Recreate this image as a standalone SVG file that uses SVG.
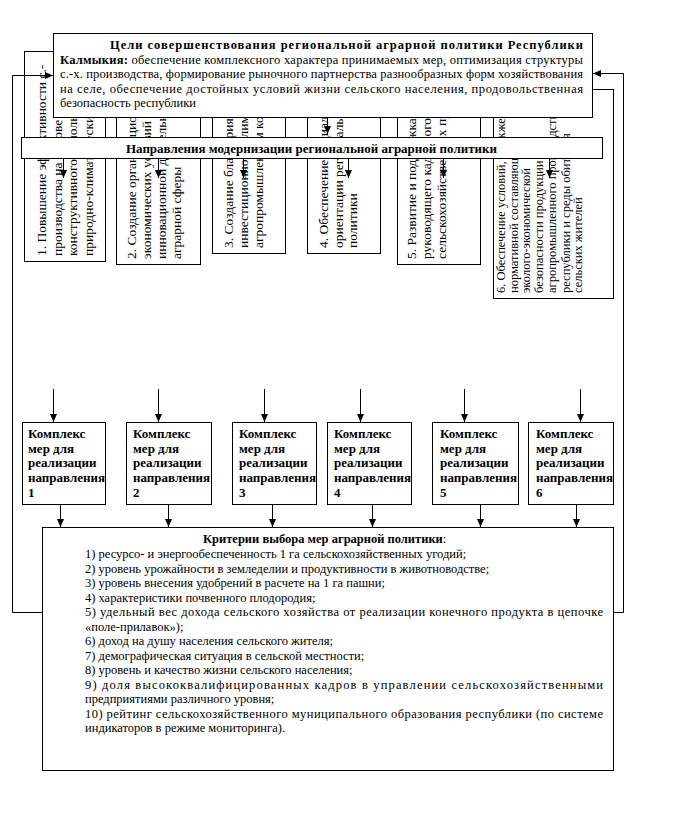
<svg xmlns="http://www.w3.org/2000/svg" width="697" height="817" viewBox="0 0 697 817">
<style>
.box{fill:#fff;stroke:#000;stroke-width:1}
.ln{fill:none;stroke:#000;stroke-width:1}
.t{font-family:"Liberation Serif","Times New Roman",serif;fill:#000}
.r{font-size:13.5px}
.r6{font-size:12.5px}
.b{font-weight:bold}
.m{font-size:12.5px}
.k{font-size:13px;font-weight:bold}
.c{font-size:12.5px}
</style>
<defs>
<marker id="ah" markerWidth="8" markerHeight="8" refX="8" refY="4" orient="auto" markerUnits="userSpaceOnUse"><path d="M0,0.5 L8,4 L0,7.5 z" fill="#000"/></marker>
</defs>
<rect width="697" height="817" fill="#fff"/>

<!-- direction boxes -->
<g id="dir1">
<rect class="box" x="24.5" y="51.5" width="81" height="210"/>
<text class="t r" transform="translate(46,256) rotate(-90)">1. Повышение эффективности с.-</text>
<text class="t r" transform="translate(61.5,256) rotate(-90)">производства на основе</text>
<text class="t r" transform="translate(77,256) rotate(-90)">конструктивного использования</text>
<text class="t r" transform="translate(92.5,256) rotate(-90)">природно-климатических условий</text>
</g>
<g id="dir2">
<rect class="box" x="116.5" y="100.5" width="84" height="164"/>
<text class="t r" transform="translate(136,259) rotate(-90)">2. Создание организационно-</text>
<text class="t r" transform="translate(151,259) rotate(-90)">экономических условий развития</text>
<text class="t r" transform="translate(166,259) rotate(-90)">инновационной деятельности</text>
<text class="t r" transform="translate(181,259) rotate(-90)">аграрной сферы</text>
</g>
<g id="dir3">
<rect class="box" x="212.5" y="100.5" width="73" height="153"/>
<text class="t r" transform="translate(233,248) rotate(-90)">3. Создание благоприятного</text>
<text class="t r" transform="translate(248,248) rotate(-90)">инвестиционного климата в</text>
<text class="t r" transform="translate(263,248) rotate(-90)">агропромышленном комплексе</text>
</g>
<g id="dir4">
<rect class="box" x="307.5" y="100.5" width="73" height="153"/>
<text class="t r" transform="translate(328,248) rotate(-90)">4. Обеспечение социальной</text>
<text class="t r" transform="translate(342.5,248) rotate(-90)">ориентации региональной</text>
<text class="t r" transform="translate(357,248) rotate(-90)">политики</text>
</g>
<g id="dir5">
<rect class="box" x="397.5" y="100.5" width="83" height="164"/>
<text class="t r" transform="translate(416,259) rotate(-90)">5. Развитие и поддержка</text>
<text class="t r" transform="translate(431,259) rotate(-90)">руководящего кадрового потенциала</text>
<text class="t r" transform="translate(446,259) rotate(-90)">сельскохозяйственных предприятий</text>
</g>
<g id="dir6">
<rect class="box" x="493.5" y="89.5" width="120" height="209"/>
<text class="t r6" transform="translate(505,293) rotate(-90)">6. Обеспечение условий, а также</text>
<text class="t r6" transform="translate(517.5,293) rotate(-90)">нормативной составляющей</text>
<text class="t r6" transform="translate(530,293) rotate(-90)">эколого-экономической</text>
<text class="t r6" transform="translate(543,293) rotate(-90)">безопасности продукции</text>
<text class="t r6" transform="translate(556,293) rotate(-90)">агропромышленного производства</text>
<text class="t r6" transform="translate(569.5,293) rotate(-90)">республики и среды обитания</text>
<text class="t r6" transform="translate(582,293) rotate(-90)">сельских жителей</text>
</g>

<!-- bar -->
<g id="bar">
<rect class="box" x="21.5" y="137.5" width="581" height="21"/>
<text class="t b" style="font-size:13px" x="311.5" y="152.5" text-anchor="middle">Направления модернизации региональной аграрной политики</text>
</g>

<!-- top goal box -->
<g id="goal">
<rect class="box" x="53.5" y="33.5" width="539" height="84"/>
<text class="t b" style="font-size:12.5px" x="110" y="49" textLength="473" lengthAdjust="spacing">Цели совершенствования региональной аграрной политики Республики</text>
<text class="t m" x="60" y="64" textLength="523" lengthAdjust="spacing"><tspan class="b">Калмыкия:</tspan> обеспечение комплексного характера принимаемых мер, оптимизация структуры</text>
<text class="t m" x="60" y="78" textLength="523" lengthAdjust="spacing">с.-х. производства, формирование рыночного партнерства разнообразных форм хозяйствования</text>
<text class="t m" x="60" y="93" textLength="523" lengthAdjust="spacing">на селе, обеспечение достойных условий жизни сельского населения, продовольственная</text>
<text class="t m" x="60" y="107">безопасность республики</text>
</g>

<!-- complex boxes -->
<g id="cx1"><rect class="box" x="22.5" y="422.5" width="83" height="82"/>
<text class="t k" x="28" y="438">Комплекс</text><text class="t k" x="28" y="453">мер для</text><text class="t k" x="28" y="467">реализации</text><text class="t k" x="28" y="482">направления</text><text class="t k" x="28" y="497">1</text></g>
<g id="cx2"><rect class="box" x="126.5" y="422.5" width="85" height="82"/>
<text class="t k" x="133" y="438">Комплекс</text><text class="t k" x="133" y="453">мер для</text><text class="t k" x="133" y="467">реализации</text><text class="t k" x="133" y="482">направления</text><text class="t k" x="133" y="497">2</text></g>
<g id="cx3"><rect class="box" x="232.5" y="422.5" width="84" height="82"/>
<text class="t k" x="239" y="438">Комплекс</text><text class="t k" x="239" y="453">мер для</text><text class="t k" x="239" y="467">реализации</text><text class="t k" x="239" y="482">направления</text><text class="t k" x="239" y="497">3</text></g>
<g id="cx4"><rect class="box" x="327.5" y="422.5" width="84" height="82"/>
<text class="t k" x="334" y="438">Комплекс</text><text class="t k" x="334" y="453">мер для</text><text class="t k" x="334" y="467">реализации</text><text class="t k" x="334" y="482">направления</text><text class="t k" x="334" y="497">4</text></g>
<g id="cx5"><rect class="box" x="432.5" y="422.5" width="86" height="82"/>
<text class="t k" x="440" y="438">Комплекс</text><text class="t k" x="440" y="453">мер для</text><text class="t k" x="440" y="467">реализации</text><text class="t k" x="440" y="482">направления</text><text class="t k" x="440" y="497">5</text></g>
<g id="cx6"><rect class="box" x="528.5" y="422.5" width="85" height="82"/>
<text class="t k" x="536" y="438">Комплекс</text><text class="t k" x="536" y="453">мер для</text><text class="t k" x="536" y="467">реализации</text><text class="t k" x="536" y="482">направления</text><text class="t k" x="536" y="497">6</text></g>

<!-- criteria box -->
<g id="criteria">
<rect class="box" x="42.5" y="527.5" width="571" height="243"/>
<text class="t c" x="203" y="543"><tspan class="b">Критерии выбора мер аграрной политики</tspan>:</text>
<text class="t c" x="85" y="558">1) ресурсо- и энергообеспеченность 1 га сельскохозяйственных угодий;</text>
<text class="t c" x="85" y="572.5">2) уровень урожайности в земледелии и продуктивности в животноводстве;</text>
<text class="t c" x="85" y="587">3) уровень внесения удобрений в расчете на 1 га пашни;</text>
<text class="t c" x="85" y="601.5">4) характеристики почвенного плодородия;</text>
<text class="t c" x="85" y="616" textLength="518" lengthAdjust="spacing">5) удельный вес дохода сельского хозяйства от реализации конечного продукта в цепочке</text>
<text class="t c" x="85" y="630.5">«поле-прилавок»);</text>
<text class="t c" x="85" y="645">6) доход на душу населения сельского жителя;</text>
<text class="t c" x="85" y="659.5">7) демографическая ситуация в сельской местности;</text>
<text class="t c" x="85" y="674">8) уровень и качество жизни сельского населения;</text>
<text class="t c" x="85" y="688.5" textLength="518" lengthAdjust="spacing">9) доля высококвалифицированных кадров в управлении сельскохозяйственными</text>
<text class="t c" x="85" y="703">предприятиями различного уровня;</text>
<text class="t c" x="85" y="717.5" textLength="518" lengthAdjust="spacing">10) рейтинг сельскохозяйственного муниципального образования республики (по системе</text>
<text class="t c" x="85" y="732">индикаторов в режиме мониторинга).</text>
</g>

<!-- connectors -->
<g id="connectors">
<line class="ln" x1="63.5" y1="158" x2="63.5" y2="178" marker-end="url(#ah)"/>
<line class="ln" x1="158.5" y1="158" x2="158.5" y2="178" marker-end="url(#ah)"/>
<line class="ln" x1="243.5" y1="158" x2="243.5" y2="178" marker-end="url(#ah)"/>
<line class="ln" x1="327.5" y1="117" x2="327.5" y2="134" marker-end="url(#ah)"/>
<line class="ln" x1="348.5" y1="158" x2="348.5" y2="178" marker-end="url(#ah)"/>
<line class="ln" x1="443.5" y1="158" x2="443.5" y2="178" marker-end="url(#ah)"/>
<line class="ln" x1="549.5" y1="158" x2="549.5" y2="178" marker-end="url(#ah)"/>

<line class="ln" x1="53.5" y1="389" x2="53.5" y2="422" marker-end="url(#ah)"/>
<line class="ln" x1="158.5" y1="389" x2="158.5" y2="422" marker-end="url(#ah)"/>
<line class="ln" x1="264.5" y1="389" x2="264.5" y2="422" marker-end="url(#ah)"/>
<line class="ln" x1="360.5" y1="389" x2="360.5" y2="422" marker-end="url(#ah)"/>
<line class="ln" x1="464.5" y1="389" x2="464.5" y2="422" marker-end="url(#ah)"/>
<line class="ln" x1="580.5" y1="389" x2="580.5" y2="422" marker-end="url(#ah)"/>

<line class="ln" x1="60.5" y1="505" x2="60.5" y2="527" marker-end="url(#ah)"/>
<line class="ln" x1="168.5" y1="505" x2="168.5" y2="527" marker-end="url(#ah)"/>
<line class="ln" x1="272.5" y1="505" x2="272.5" y2="527" marker-end="url(#ah)"/>
<line class="ln" x1="372.5" y1="505" x2="372.5" y2="527" marker-end="url(#ah)"/>
<line class="ln" x1="480.5" y1="505" x2="480.5" y2="527" marker-end="url(#ah)"/>
<line class="ln" x1="576.5" y1="505" x2="576.5" y2="527" marker-end="url(#ah)"/>

<polyline class="ln" points="53,51.5 24.5,51.5"/>
<polyline class="ln" points="42,612.5 12.5,612.5 12.5,75.5 53,75.5" marker-end="url(#ah)"/>
<polyline class="ln" points="613,612.5 623.5,612.5 623.5,73.5 593,73.5" marker-end="url(#ah)"/>
</g>
</svg>
